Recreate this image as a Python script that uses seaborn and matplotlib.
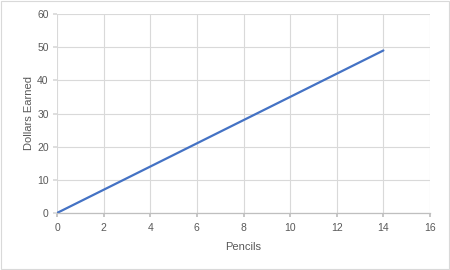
import matplotlib
matplotlib.use("Agg")
import matplotlib.pyplot as plt
import seaborn as sns
import pandas as pd

pencils = [0, 2, 4, 6, 8, 10, 12, 14]
dollars = [0, 7, 14, 21, 28, 35, 42, 49]
x_ticks = [0, 2, 4, 6, 8, 10, 12, 14, 16]
y_ticks = [0, 10, 20, 30, 40, 50, 60]

sns.set_theme(style="white")
plt.rcParams['font.family'] = ['Liberation Sans', 'DejaVu Sans']

df = pd.DataFrame({"Pencils": pencils, "Dollars Earned": dollars})

fig = plt.figure(figsize=(4.5, 2.7), dpi=100)
ax = fig.add_axes([57/450, 1-213/270, (430-57)/450, (213-14)/270])
sns.lineplot(data=df, x="Pencils", y="Dollars Earned", ax=ax, color="#4472C4", linewidth=1.6)

ax.set_xlim(0, 16)
ax.set_ylim(0, 60)
ax.set_xticks(x_ticks)
ax.set_yticks(y_ticks)
ax.grid(True, color="#D9D9D9", linewidth=0.8)
ax.set_axisbelow(True)
for s in ["top", "right", "left"]:
    ax.spines[s].set_visible(False)
ax.spines["bottom"].set_color("#BFBFBF")
ax.spines["bottom"].set_linewidth(0.9)
ax.tick_params(axis="x", length=3, color="#BFBFBF", colors="#595959", labelsize=7.5, pad=4, bottom=True)
ax.tick_params(axis="y", length=3, color="#D9D9D9", colors="#595959", labelsize=7.5, pad=3, left=True)
ax.set_xlabel("Pencils", fontsize=8, color="#595959", labelpad=7)
ax.set_ylabel("Dollars Earned", fontsize=8, color="#595959", labelpad=2)

fig.patches.append(plt.Rectangle((0.002, 0.003), 0.995, 0.993, transform=fig.transFigure,
                                 fill=False, edgecolor="#D9D9D9", linewidth=0.8))
fig.savefig("out.png", dpi=100, facecolor="white")
